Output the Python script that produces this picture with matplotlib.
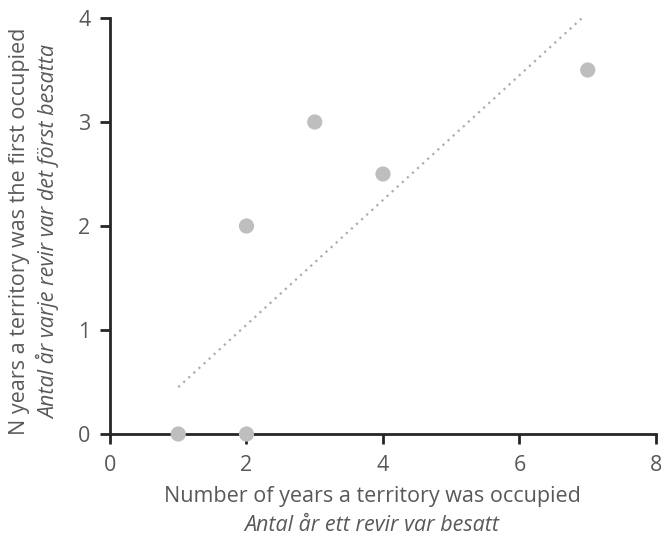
import matplotlib
matplotlib.use("Agg")
import matplotlib.pyplot as plt

plt.rcParams['font.family'] = ['Open Sans', 'DejaVu Sans']

years_occupied = [1, 2, 2, 3, 4, 7]
years_first = [0, 0, 2, 3, 2.5, 3.5]
trend_x = [1, 7]
trend_y = [0.45, 4.05]
x_ticks = [0, 2, 4, 6, 8]
y_ticks = [0, 1, 2, 3, 4]

text_color = '#595959'
fig = plt.figure(figsize=(6.61, 5.36), dpi=100)
ax = fig.add_axes([0.1664, 0.1903, 0.8260, 0.7761])

ax.plot(trend_x, trend_y, linestyle=(0, (1, 2.1)), color='#ADADB0', linewidth=1.6,
        dash_capstyle='butt', zorder=2)
ax.scatter(years_occupied, years_first, s=120, color='#BEBEC1', edgecolors='none', zorder=3, clip_on=False)

ax.set_xlim(0, 8)
ax.set_ylim(0, 4)
ax.set_xticks(x_ticks)
ax.set_yticks(y_ticks)
for s in ['top', 'right']:
    ax.spines[s].set_visible(False)
for s in ['left', 'bottom']:
    ax.spines[s].set_linewidth(2)
    ax.spines[s].set_color('#262626')
    ax.spines[s].set_zorder(1)
ax.tick_params(direction='out', length=7, width=2, color='#262626', labelsize=15.5, labelcolor=text_color)
ax.tick_params(axis='x', pad=8)
ax.tick_params(axis='y', pad=7)

fig.text(0.563, 0.0746, 'Number of years a territory was occupied', ha='center', va='center', fontsize=15.5, color=text_color)
fig.text(0.563, 0.0205, 'Antal år ett revir var besatt', ha='center', va='center', fontsize=15.5, color=text_color, style='italic')
fig.text(0.030, 0.568, 'N years a territory was the first occupied', ha='center', va='center', rotation=90, fontsize=15.5, color=text_color)
fig.text(0.074, 0.568, 'Antal år varje revir var det först besatta', ha='center', va='center', rotation=90, fontsize=15.5, color=text_color, style='italic')

fig.savefig('out.png', dpi=100)
